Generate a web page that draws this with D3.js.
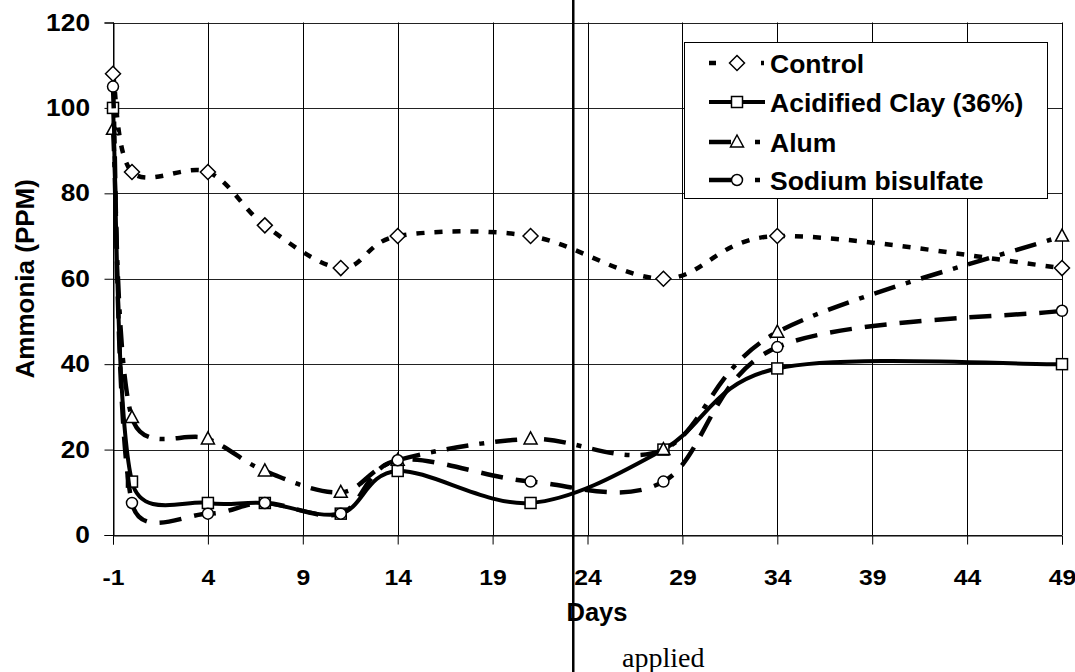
<!DOCTYPE html>
<html>
<head>
<meta charset="utf-8">
<script src="https://cdn.jsdelivr.net/npm/d3@7"></script>
<style>
  html, body { margin: 0; padding: 0; background: #fff; }
  svg { display: block; }
  text { font-family: "Liberation Sans", Arial, sans-serif; font-weight: bold; fill: #000; }
</style>
</head>
<body>
<svg id="chart" width="1075" height="672"></svg>
<script>
// ---- data ----
const days = [-1, 0, 4, 7, 11, 14, 21, 28, 34, 49];
const control = [108, 85, 85, 72.5, 62.5, 70, 70, 60, 70, 62.5];
const clay = [100, 12.5, 7.5, 7.5, 5, 15, 7.5, 20, 39, 40];
const alum = [95, 27.5, 22.5, 15, 10, 17.5, 22.5, 20, 47.5, 70];
const sodium = [105, 7.5, 5, 7.5, 5, 17.5, 12.5, 12.5, 44, 52.5];
const seriesNames = ["Control", "Acidified Clay (36%)", "Alum", "Sodium bisulfate"];
const xTicks = [-1, 4, 9, 14, 19, 24, 29, 34, 39, 44, 49];
const yTicks = [0, 20, 40, 60, 80, 100, 120];
const appliedDay = 23.25;
const appliedLabel = "applied";
const xTitle = "Days";
const yTitle = "Ammonia (PPM)";

// ---- styles ----
const styles = [
  { dash: "8,10", legendDash: "7,45,3,20", width: 4.5, marker: "diamond" },
  { dash: null, legendDash: null, width: 4, marker: "square" },
  { dash: "22,11,5,11", legendDash: "22,24,5,20", width: 4.5, marker: "triangle" },
  { dash: "22,13", legendDash: "22,24,5,20", width: 4.5, marker: "circle" }
];

const svg = d3.select("#chart");
const x = d3.scaleLinear().domain([-1, 49]).range([113, 1062]);
const y = d3.scaleLinear().domain([0, 120]).range([535, 22.5]);

// grid
const grid = svg.append("g");
grid.selectAll("line.h").data(yTicks).join("line")
  .attr("x1", x(-1)).attr("x2", x(49))
  .attr("y1", d => Math.round(y(d)) + 0.5).attr("y2", d => Math.round(y(d)) + 0.5)
  .attr("stroke", "#222").attr("stroke-width", 1);
grid.selectAll("line.v").data(xTicks).join("line")
  .attr("x1", d => Math.round(x(d)) + 0.5).attr("x2", d => Math.round(x(d)) + 0.5)
  .attr("y1", y(120)).attr("y2", y(0))
  .attr("stroke", "#000").attr("stroke-width", 1);

// axes
const yAxis = d3.axisLeft(y).tickValues(yTicks).tickSize(9).tickPadding(14).tickFormat(d => String(d));
const gy = svg.append("g").attr("transform", `translate(${Math.round(x(-1)) + 0.5},0)`).call(yAxis);
gy.select(".domain").attr("stroke", "#000");
gy.selectAll(".tick line").attr("stroke", "#000");
gy.selectAll("text").style("font-size", "23.5px").attr("fill", "#000")
  .attr("x", -23.5 / 1.12).attr("transform", "scale(1.12,1)");

const xAxis = d3.axisBottom(x).tickValues(xTicks).tickSize(9).tickPadding(25).tickFormat(d => String(d));
const gx = svg.append("g").attr("transform", `translate(0,${Math.round(y(0)) + 0.5})`).call(xAxis);
gx.select(".domain").attr("stroke", "#000");
gx.selectAll(".tick line").attr("stroke", "#000");
gx.selectAll("text").style("font-size", "21.5px").attr("fill", "#000")
  .attr("transform", "scale(1.15,1)");

// titles
svg.append("text").attr("x", 597).attr("y", 621).attr("text-anchor", "middle")
  .style("font-size", "25.5px").text(xTitle);
svg.append("text").attr("transform", `translate(34,${(y(0) + y(120)) / 2}) rotate(-90)`)
  .attr("text-anchor", "middle").style("font-size", "26px").text(yTitle);

// series
const allSeries = [control, clay, alum, sodium].map((vals, i) => ({
  name: seriesNames[i],
  style: styles[i],
  points: days.map((d, j) => ({ d, v: vals[j] }))
}));

// Excel-like smoothed path: Catmull-Rom tangents (1/6) clamped to half the segment length
function smoothPath(pts) {
  const P = pts.map(p => [x(p.d), y(p.v)]);
  const n = P.length;
  const path = d3.path();
  path.moveTo(P[0][0], P[0][1]);
  for (let i = 0; i < n - 1; i++) {
    const p0 = P[Math.max(i - 1, 0)], p1 = P[i], p2 = P[i + 1], p3 = P[Math.min(i + 2, n - 1)];
    const seg = Math.hypot(p2[0] - p1[0], p2[1] - p1[1]);
    let t1 = [(p2[0] - p0[0]) / 6, (p2[1] - p0[1]) / 6];
    let t2 = [(p3[0] - p1[0]) / 6, (p3[1] - p1[1]) / 6];
    const l1 = Math.hypot(t1[0], t1[1]), l2 = Math.hypot(t2[0], t2[1]);
    if (l1 > seg / 2) { t1 = [t1[0] * seg / 2 / l1, t1[1] * seg / 2 / l1]; }
    if (l2 > seg / 2) { t2 = [t2[0] * seg / 2 / l2, t2[1] * seg / 2 / l2]; }
    path.bezierCurveTo(p1[0] + t1[0], p1[1] + t1[1], p2[0] - t2[0], p2[1] - t2[1], p2[0], p2[1]);
  }
  return path.toString();
}

function drawMarker(g, type, cx, cy) {
  if (type === "diamond") {
    g.append("path").attr("d", `M${cx},${cy - 7.5}L${cx + 7.5},${cy}L${cx},${cy + 7.5}L${cx - 7.5},${cy}Z`)
      .attr("fill", "#fff").attr("stroke", "#000").attr("stroke-width", 1.5);
  } else if (type === "square") {
    g.append("rect").attr("x", cx - 5.5).attr("y", cy - 5.5).attr("width", 11).attr("height", 11)
      .attr("fill", "#fff").attr("stroke", "#000").attr("stroke-width", 1.5);
  } else if (type === "triangle") {
    g.append("path").attr("d", `M${cx},${cy - 7}L${cx + 6.5},${cy + 5}L${cx - 6.5},${cy + 5}Z`)
      .attr("fill", "#fff").attr("stroke", "#000").attr("stroke-width", 1.5);
  } else {
    g.append("circle").attr("cx", cx).attr("cy", cy).attr("r", 5.5)
      .attr("fill", "#fff").attr("stroke", "#000").attr("stroke-width", 1.5);
  }
}

allSeries.forEach(s => {
  const g = svg.append("g");
  g.append("path").attr("d", smoothPath(s.points))
    .attr("fill", "none").attr("stroke", "#000")
    .attr("stroke-width", s.style.width)
    .attr("stroke-dasharray", s.style.dash);
  s.points.forEach(p => drawMarker(g, s.style.marker, x(p.d), y(p.v)));
});

// legend
const lg = svg.append("g");
lg.append("rect").attr("x", 684.5).attr("y", 42.5).attr("width", 363).attr("height", 156)
  .attr("fill", "#fff").attr("stroke", "#000").attr("stroke-width", 1);
const rowY = [63, 102, 142, 180];
allSeries.forEach((s, i) => {
  const cy = rowY[i];
  lg.append("line").attr("x1", 709).attr("x2", 765).attr("y1", cy).attr("y2", cy)
    .attr("stroke", "#000").attr("stroke-width", s.style.width)
    .attr("stroke-dasharray", s.style.legendDash);
  drawMarker(lg, s.style.marker, 737, cy);
  lg.append("text").attr("x", 770).attr("y", cy).attr("dy", "0.36em")
    .style("font-size", "26.5px").text(s.name);
});

// applied marker line
svg.append("line").attr("x1", x(appliedDay)).attr("x2", x(appliedDay))
  .attr("y1", 0).attr("y2", 672).attr("stroke", "#000").attr("stroke-width", 2.5);
svg.append("text").attr("x", 622).attr("y", 667)
  .style("font-family", "'Liberation Serif', 'Times New Roman', serif")
  .style("font-weight", "normal").style("font-size", "28px").text(appliedLabel);
</script>
</body>
</html>
